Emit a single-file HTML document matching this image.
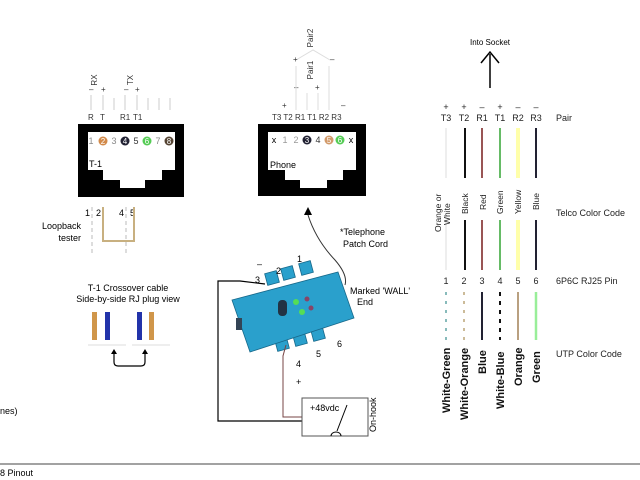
<!DOCTYPE html>
<html><head><meta charset="utf-8"><style>
body{margin:0;background:#fff}
svg{display:block;font-family:"Liberation Sans",sans-serif}
</style></head><body>
<svg width="640" height="480" viewBox="0 0 640 480" xmlns="http://www.w3.org/2000/svg">
<g font-size="8" fill="#333">
<!-- T-1 jack -->
<text x="97" y="80" transform="rotate(-90 97 80)" text-anchor="middle">RX</text>
<text x="133" y="80" transform="rotate(-90 133 80)" text-anchor="middle">TX</text>
<text x="89" y="92">–</text><text x="101" y="92">+</text><text x="124" y="92">–</text><text x="135" y="92">+</text>
<g stroke="#ccc" stroke-width="1"><line x1="91" y1="95" x2="91" y2="110"/><line x1="103" y1="95" x2="103" y2="110"/><line x1="125" y1="95" x2="125" y2="110"/><line x1="137" y1="95" x2="137" y2="110"/><line x1="114" y1="98" x2="114" y2="110"/><line x1="148" y1="98" x2="148" y2="110"/><line x1="159" y1="98" x2="159" y2="110"/><line x1="170" y1="98" x2="170" y2="110"/></g>
<text x="88" y="120">R</text><text x="100" y="120">T</text><text x="120" y="120">R1</text><text x="133" y="120">T1</text>
<rect x="78" y="124" width="106" height="73" fill="#000"/>
<path d="M88 132H175V170H162V180H145V188H120V180H103V170H88Z" fill="#fff"/>
<text x="91" y="144" font-size="9" fill="#888" text-anchor="middle">1</text>
<circle cx="103" cy="141" r="4.5" fill="#d28a4a"/><text x="103" y="144" font-size="8" fill="#fff" text-anchor="middle">2</text>
<text x="114" y="144" font-size="9" fill="#888" text-anchor="middle">3</text>
<circle cx="125" cy="141" r="4.5" fill="#223"/><text x="125" y="144" font-size="8" fill="#fff" text-anchor="middle">4</text>
<text x="136" y="144" font-size="9" fill="#333" text-anchor="middle">5</text>
<circle cx="147" cy="141" r="4.5" fill="#5c5"/><text x="147" y="144" font-size="8" fill="#fff" text-anchor="middle">6</text>
<text x="158" y="144" font-size="9" fill="#888" text-anchor="middle">7</text>
<circle cx="169" cy="141" r="4.5" fill="#543"/><text x="169" y="144" font-size="8" fill="#fff" text-anchor="middle">8</text>
<text x="89" y="167" font-size="9" fill="#000">T-1</text>
<!-- loopback -->
<text x="85" y="216" font-size="9" fill="#000">1</text><text x="96" y="216" font-size="9" fill="#000">2</text>
<text x="119" y="216" font-size="9" fill="#000">4</text><text x="130" y="216" font-size="9" fill="#000">5</text>
<path d="M103 207V241H134V207" fill="none" stroke="#c8b080" stroke-width="2"/>
<line x1="92" y1="207" x2="92" y2="255" stroke="#bbb" stroke-dasharray="4 3"/>
<line x1="126" y1="207" x2="126" y2="255" stroke="#bbb" stroke-dasharray="4 3"/>
<text x="81" y="229" font-size="9" fill="#000" text-anchor="end">Loopback</text>
<text x="81" y="241" font-size="9" fill="#000" text-anchor="end">tester</text>
<text x="128" y="291" font-size="9" fill="#000" text-anchor="middle">T-1 Crossover cable</text>
<text x="128" y="302" font-size="9" fill="#000" text-anchor="middle">Side-by-side RJ plug view</text>
<rect x="92" y="312" width="5" height="28" fill="#d0964a"/><rect x="105" y="312" width="5" height="28" fill="#2233aa"/>
<rect x="137" y="312" width="5" height="28" fill="#2233aa"/><rect x="149" y="312" width="5" height="28" fill="#d0964a"/>
<g stroke="#ddd"><line x1="88" y1="345" x2="126" y2="345"/><line x1="132" y1="345" x2="170" y2="345"/></g>
<path d="M114 352V362Q114 366 118 366H141Q145 366 145 362V352" fill="none" stroke="#000" stroke-width="1.2"/>
<path d="M111 354L114 349L117 354ZM142 354L145 349L148 354Z" fill="#000"/>
<text x="0" y="414" font-size="9" fill="#000">nes)</text>
<line x1="0" y1="464" x2="640" y2="464" stroke="#444"/>
<text x="0" y="476" font-size="9" fill="#000">8  Pinout</text>

<!-- phone jack -->
<text x="313" y="38" transform="rotate(-90 313 38)" text-anchor="middle">Pair2</text>
<path d="M296 60L313 50L330 60" fill="none" stroke="#ddd"/>
<text x="293" y="62">+</text><text x="330" y="62">–</text>
<text x="313" y="70" transform="rotate(-90 313 70)" text-anchor="middle">Pair1</text>
<text x="294" y="90">–</text><text x="315" y="90">+</text>
<text x="282" y="108">+</text><text x="341" y="108">–</text>
<g stroke="#ddd"><line x1="296" y1="66" x2="296" y2="110"/><line x1="329" y1="66" x2="329" y2="110"/><line x1="307" y1="93" x2="307" y2="110"/><line x1="318" y1="93" x2="318" y2="110"/></g>
<text x="272" y="120">T3 T2 R1 T1 R2 R3</text>
<rect x="258" y="124" width="108" height="72" fill="#000"/>
<path d="M268 132H356V170H343V180H327V188H300V180H285V170H268Z" fill="#fff"/>
<text x="274" y="143" font-size="9" fill="#000" text-anchor="middle">x</text>
<text x="285" y="143" font-size="9" fill="#999" text-anchor="middle">1</text>
<text x="296" y="143" font-size="9" fill="#999" text-anchor="middle">2</text>
<circle cx="307" cy="140" r="4.5" fill="#223"/><text x="307" y="143" font-size="8" fill="#fff" text-anchor="middle">3</text>
<text x="318" y="143" font-size="9" fill="#333" text-anchor="middle">4</text>
<circle cx="329" cy="140" r="4.5" fill="#d29a6a"/><text x="329" y="143" font-size="8" fill="#fff" text-anchor="middle">5</text>
<circle cx="340" cy="140" r="4.5" fill="#5c5"/><text x="340" y="143" font-size="8" fill="#fff" text-anchor="middle">6</text>
<text x="351" y="143" font-size="9" fill="#000" text-anchor="middle">x</text>
<text x="270" y="168" font-size="9" fill="#000">Phone</text>

<path d="M304 215L308 207L312 215Z" fill="#000"/>
<path d="M308 215Q316 240 335 260Q348 275 345 285" fill="none" stroke="#333"/>
<text x="340" y="235" font-size="9" fill="#000">*Telephone</text>
<text x="343" y="247" font-size="9" fill="#000">Patch Cord</text>
<text x="350" y="294" font-size="9" fill="#000">Marked 'WALL'</text>
<text x="357" y="305" font-size="9" fill="#000">End</text>
<!-- module -->
<g fill="#2aa0cc" stroke="#17688a" stroke-width="0.8">
<rect x="266" y="272" width="12" height="12" transform="rotate(-15 272 278)"/>
<rect x="282" y="267" width="12" height="12" transform="rotate(-15 288 273)"/>
<rect x="300" y="262" width="12" height="12" transform="rotate(-15 306 268)"/>
<rect x="276" y="338" width="12" height="12" transform="rotate(-15 282 344)"/>
<rect x="294" y="333" width="12" height="12" transform="rotate(-15 300 339)"/>
<rect x="312" y="328" width="12" height="12" transform="rotate(-15 318 334)"/>
<path d="M232 300L338 272L354 318L250 352Z"/>
</g>
<rect x="278" y="300" width="9" height="16" rx="4" fill="#234"/>
<circle cx="296" cy="302" r="3" fill="#5d5"/><circle cx="302" cy="312" r="3" fill="#5d5"/>
<circle cx="307" cy="299" r="2.5" fill="#846"/><circle cx="311" cy="308" r="2.5" fill="#846"/>
<rect x="236" y="318" width="6" height="12" fill="#345"/>
<text x="257" y="267" font-size="9" fill="#000">–</text>
<text x="255" y="283" font-size="9" fill="#000">3</text>
<text x="276" y="274" font-size="9" fill="#000">2</text>
<text x="297" y="262" font-size="9" fill="#000">1</text>
<text x="337" y="347" font-size="9" fill="#000">6</text>
<text x="316" y="357" font-size="9" fill="#000">5</text>
<text x="296" y="367" font-size="9" fill="#000">4</text>
<text x="296" y="385" font-size="9" fill="#000">+</text>
<path d="M265 284L240 281H218V421H302" fill="none" stroke="#000" stroke-width="1.2"/>
<path d="M286 345L283 356V417H302" fill="none" stroke="#744" stroke-width="1"/>
<rect x="302" y="398" width="66" height="38" fill="#fff" stroke="#555"/>
<text x="310" y="411" font-size="9" fill="#000">+48vdc</text>
<line x1="337" y1="431" x2="347" y2="405" stroke="#000"/>
<path d="M331 436A5 4 0 0 1 341 436" fill="none" stroke="#000"/>
<text x="376" y="432" font-size="9" fill="#000" transform="rotate(-90 376 432)">On-hook</text>

<!-- right table -->
<text x="490" y="45" font-size="8" fill="#000" text-anchor="middle">Into Socket</text>
<line x1="490" y1="88" x2="490" y2="54" stroke="#000" stroke-width="1.5"/>
<path d="M481 63L490 52L499 63" fill="none" stroke="#000" stroke-width="1.5"/>
<g font-size="9" fill="#222" text-anchor="middle">
<text x="446" y="110">+</text><text x="464" y="110">+</text><text x="482" y="110">–</text><text x="500" y="110">+</text><text x="518" y="110">–</text><text x="536" y="110">–</text>
<text x="446" y="121">T3</text><text x="464" y="121">T2</text><text x="482" y="121">R1</text><text x="500" y="121">T1</text><text x="518" y="121">R2</text><text x="536" y="121">R3</text>
<text x="446" y="284">1</text><text x="464" y="284">2</text><text x="482" y="284">3</text><text x="500" y="284">4</text><text x="518" y="284">5</text><text x="536" y="284">6</text>
</g>
<text x="556" y="121" font-size="9" fill="#222">Pair</text>
<text x="556" y="216" font-size="9" fill="#222">Telco Color Code</text>
<text x="556" y="284" font-size="9" fill="#222">6P6C RJ25 Pin</text>
<text x="556" y="357" font-size="9" fill="#222">UTP Color Code</text>
<g stroke-width="2">
<line x1="446" y1="128" x2="446" y2="178" stroke="#eee"/><line x1="446" y1="220" x2="446" y2="270" stroke="#eee"/>
<line x1="465" y1="128" x2="465" y2="178" stroke="#111"/><line x1="465" y1="220" x2="465" y2="270" stroke="#111"/>
<line x1="482" y1="128" x2="482" y2="178" stroke="#955"/><line x1="482" y1="220" x2="482" y2="270" stroke="#955"/>
<line x1="500" y1="128" x2="500" y2="178" stroke="#6b6"/><line x1="500" y1="220" x2="500" y2="270" stroke="#6b6"/>
<line x1="518" y1="128" x2="518" y2="178" stroke="#ffa" stroke-width="4"/><line x1="518" y1="220" x2="518" y2="270" stroke="#ffa" stroke-width="4"/>
<line x1="536" y1="128" x2="536" y2="178" stroke="#223"/><line x1="536" y1="220" x2="536" y2="270" stroke="#223"/>
<line x1="446" y1="292" x2="446" y2="340" stroke="#8bb" stroke-dasharray="3 6"/>
<line x1="464" y1="292" x2="464" y2="340" stroke="#cb9" stroke-dasharray="3 6"/>
<line x1="482" y1="292" x2="482" y2="340" stroke="#223"/>
<line x1="500" y1="292" x2="500" y2="340" stroke="#111" stroke-dasharray="4 5"/>
<line x1="518" y1="292" x2="518" y2="340" stroke="#b9a080"/>
<line x1="536" y1="292" x2="536" y2="340" stroke="#9e9" stroke-width="2.5"/>
</g>
<g font-size="8.5" fill="#222">
<text transform="translate(441 232) rotate(-90)">Orange or</text><text transform="translate(450 225) rotate(-90)">White</text>
<text transform="translate(468 214) rotate(-90)">Black</text>
<text transform="translate(486 210) rotate(-90)">Red</text>
<text transform="translate(503 214) rotate(-90)">Green</text>
<text transform="translate(521 214) rotate(-90)">Yellow</text>
<text transform="translate(539 210) rotate(-90)">Blue</text>
</g>
<g font-size="11" font-weight="bold" fill="#111">
<text transform="translate(450 413) rotate(-90)">White-Green</text>
<text transform="translate(468 420) rotate(-90)">White-Orange</text>
<text transform="translate(486 374) rotate(-90)">Blue</text>
<text transform="translate(504 409) rotate(-90)">White-Blue</text>
<text transform="translate(522 386) rotate(-90)">Orange</text>
<text transform="translate(540 383) rotate(-90)">Green</text>
</g>
</g>
</svg>
</body></html>
